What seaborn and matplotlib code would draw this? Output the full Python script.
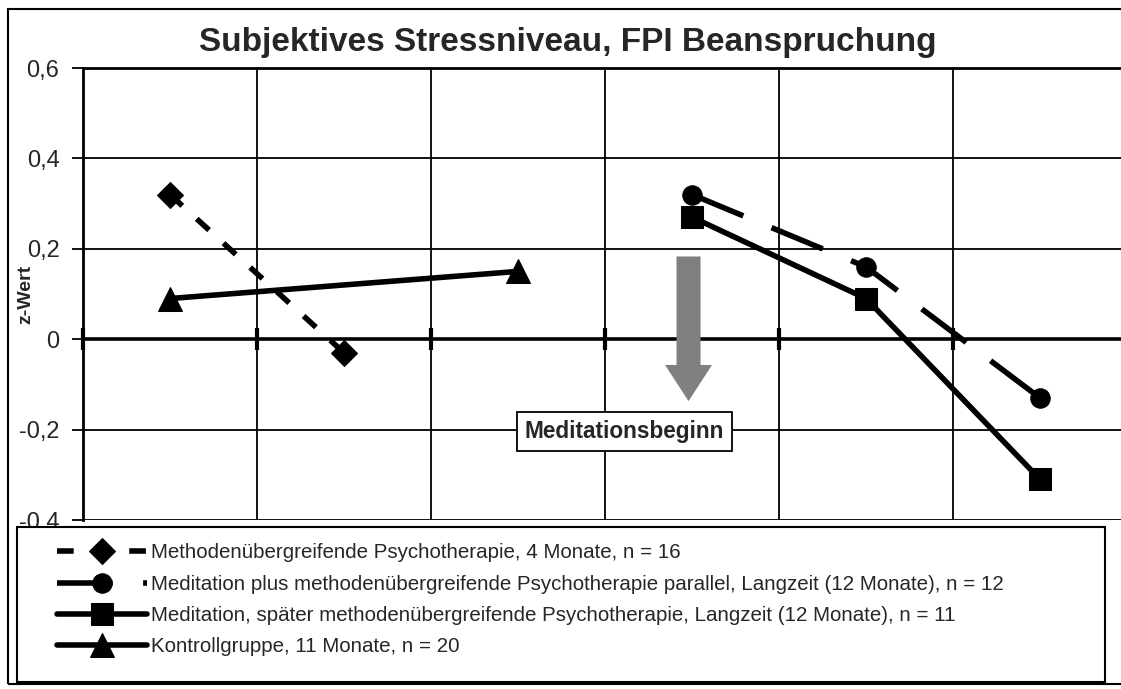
import numpy as np
import matplotlib
matplotlib.use("Agg")
import matplotlib.pyplot as plt
import seaborn as sns
from matplotlib.patches import Rectangle

# Messzeitpunkte als Index (6 Felder, im Original ohne x-Beschriftung)
n_slots = 6

psycho_x = [0, 1]
psycho_y = [0.32, -0.03]
parallel_x = [3, 4, 5]
parallel_y = [0.32, 0.16, -0.13]
spaeter_x = [3, 4, 5]
spaeter_y = [0.27, 0.09, -0.31]
kontroll_x = [0, 2]
kontroll_y = [0.09, 0.15]

series_labels = [
    "Methodenübergreifende Psychotherapie, 4 Monate, n = 16",
    "Meditation plus methodenübergreifende Psychotherapie parallel, Langzeit (12 Monate), n = 12",
    "Meditation, später methodenübergreifende Psychotherapie, Langzeit (12 Monate), n = 11",
    "Kontrollgruppe, 11 Monate, n = 20",
]
y_ticks = [-0.4, -0.2, 0.0, 0.2, 0.4, 0.6]
y_ticklabels = ["-0,4", "-0,2", "0", "0,2", "0,4", "0,6"]

sns.set_style("white")
plt.rcParams["font.family"] = ["Liberation Sans", "DejaVu Sans"]

W, H = 1121, 689
fig = plt.figure(figsize=(W / 100, H / 100), dpi=100)
ax = fig.add_axes([83 / W, 1 - 520 / H, 1044 / W, 452 / H])

# aeusserer Rahmen
fig.add_artist(Rectangle((8 / W, 1 - 684 / H), 1.2, (684 - 9) / H, transform=fig.transFigure,
                         fill=False, ec="black", lw=1.5, zorder=0))

lw = 4
sns.lineplot(x=psycho_x, y=psycho_y, ax=ax, color="black", lw=lw, marker="D", markersize=13,
             markeredgecolor="black", linestyle=(0, (3, 3.5)), label=series_labels[0])
sns.lineplot(x=parallel_x, y=parallel_y, ax=ax, color="black", lw=lw, marker="o", markersize=14,
             markeredgecolor="black", linestyle=(0, (10, 5.5)), label=series_labels[1])
sns.lineplot(x=spaeter_x, y=spaeter_y, ax=ax, color="black", lw=lw, marker="s", markersize=16,
             markeredgecolor="black", label=series_labels[2])
sns.lineplot(x=kontroll_x, y=kontroll_y, ax=ax, color="black", lw=lw, marker="^", markersize=17,
             markeredgecolor="black", label=series_labels[3])
handles, labels = ax.get_legend_handles_labels()
ax.get_legend().remove()

ax.set_xlim(-0.5, n_slots - 0.5)
ax.set_ylim(-0.4, 0.6)
ax.set_xticks(np.arange(-0.5, n_slots, 1))
ax.set_xticklabels([])
ax.set_yticks(y_ticks)
ax.set_yticklabels(y_ticklabels, fontsize=17)
ax.set_xlabel("")
ax.set_ylabel("")

ax.grid(True, color="black", lw=1.3)
ax.set_axisbelow(True)
ax.spines["bottom"].set_position(("data", 0))
ax.spines["bottom"].set_linewidth(2.6)
for s in ["top", "left", "right"]:
    ax.spines[s].set_linewidth(2)
    ax.spines[s].set_color("black")
ax.spines["bottom"].set_color("black")
ax.tick_params(axis="x", direction="inout", length=16, width=3, color="black", bottom=True)
ax.tick_params(axis="y", direction="out", length=8, width=1.3, color="black", left=True, pad=9)

# Pfeil "Meditationsbeginn"
ax.arrow(2.98, 0.183, 0, -0.32, width=0.138, head_width=0.27, head_length=0.08,
         length_includes_head=True, color="#808080", ec="none", zorder=3)
ax.text(2.61, -0.205, "Meditationsbeginn", fontsize=16.3, fontweight="bold", ha="center", va="center",
        zorder=4, bbox=dict(boxstyle="square,pad=0.35", fc="white", ec="black", lw=1.3))

fig.text(568 / W, 1 - 43 / H, "Subjektives Stressniveau, FPI Beanspruchung", fontsize=24,
         fontweight="bold", ha="center", va="center")
fig.text(26 / W, 1 - 294 / H, "z-Wert", fontsize=14, fontweight="bold", rotation=90,
         ha="center", va="center")

# Legendenrahmen separat, Legende selbst ohne Rahmen
fig.add_artist(Rectangle((17 / W, 1 - 682 / H), (1105 - 17) / W, (682 - 527) / H,
                         transform=fig.transFigure, fc="white", ec="black", lw=1.5, zorder=5))
leg = fig.legend(handles, labels, loc="center left",
                 bbox_to_anchor=(57 / W, 1 - 600 / H),
                 fontsize=14.8, frameon=False, handlelength=4.4, handletextpad=0.15,
                 labelspacing=0.6, borderpad=0, borderaxespad=0)
leg.set_zorder(6)

fig.savefig("out.png", dpi=100)
